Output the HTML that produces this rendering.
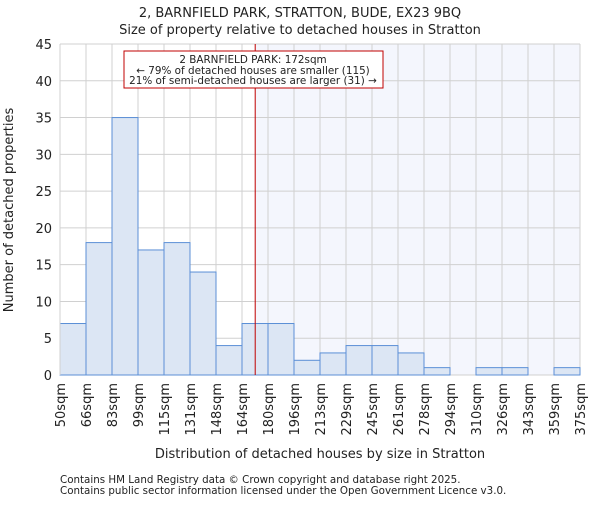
<!DOCTYPE html>
<html><head><meta charset="utf-8"><style>body{margin:0;background:#fff}svg{font-family:"DejaVu Sans","Liberation Sans",sans-serif}</style></head>
<body>
<svg id="c" width="600" height="500"></svg>
<script>
const categories=["50sqm","66sqm","83sqm","99sqm","115sqm","131sqm","148sqm","164sqm","180sqm","196sqm","213sqm","229sqm","245sqm","261sqm","278sqm","294sqm","310sqm","326sqm","343sqm","359sqm","375sqm"];
const counts=[7,18,35,17,18,14,4,7,7,2,3,4,4,3,1,0,1,1,0,1];
const yTicks=[0,5,10,15,20,25,30,35,40,45];
const markerValue=172;
const binStart=50, binWidth=16.25;
const X0=60,X1=580,Y0=375,Y1=44,NS="http://www.w3.org/2000/svg";
const svg=document.getElementById('c');
const bw=(X1-X0)/counts.length;
const xv=v=>X0+(v-binStart)/binWidth*bw;
const y=v=>Y0-(v/45)*(Y0-Y1);
function el(t,a,p){const e=document.createElementNS(NS,t);for(const k in a)e.setAttribute(k,a[k]);(p||svg).appendChild(e);return e;}
const mx=xv(markerValue);
let s=el('rect',{x:mx,y:Y1,width:X1-mx,height:Y0-Y1,fill:'#f4f6fd'});


for(const t of yTicks){const g=el('line',{x1:X0,x2:X1,y1:y(t),y2:y(t),stroke:'#d0d0d0','stroke-width':1});


const l=el('text',{x:X0-8,y:y(t)+5,'text-anchor':'end','font-size':13,fill:'#222'});l.textContent=t;

}
categories.forEach((c,i)=>{const x=X0+i*bw;const g=el('line',{x1:x,x2:x,y1:Y1,y2:Y0,stroke:'#d0d0d0','stroke-width':1});


const l=el('text',{transform:`translate(${x+5},${Y0+8}) rotate(-90)`,'text-anchor':'end','font-size':13,fill:'#222'});l.textContent=c;

});
counts.forEach((v,i)=>{if(v<=0)return;const b=el('rect',{x:X0+i*bw,y:y(v),width:bw,height:Y0-y(v),fill:'#dce6f4',stroke:'#5b8fd6','stroke-width':1});

});
let ax=el('line',{x1:X0,x2:X0,y1:Y1,y2:Y0,stroke:'#d0d0d0'});
let m=el('line',{x1:mx,x2:mx,y1:Y1,y2:Y0,stroke:'#c00000','stroke-width':1});


</script>
<svg width="600" height="500" style="position:absolute;left:0;top:0">
<g font-family="DejaVu Sans, Liberation Sans, sans-serif" fill="#222">
<text x="300" y="17" font-size="13" text-anchor="middle">2, BARNFIELD PARK, STRATTON, BUDE, EX23 9BQ</text>
<text x="300" y="34" font-size="13" text-anchor="middle">Size of property relative to detached houses in Stratton</text>
<rect x="124" y="51" width="259" height="37" fill="#fff" stroke="#c00000"/>
<text x="253" y="63" font-size="10.4" text-anchor="middle">2 BARNFIELD PARK: 172sqm</text>
<text x="253" y="74" font-size="10.4" text-anchor="middle">← 79% of detached houses are smaller (115)</text>
<text x="253" y="84" font-size="10.4" text-anchor="middle">21% of semi-detached houses are larger (31) →</text>
<text x="320" y="458" font-size="13" text-anchor="middle">Distribution of detached houses by size in Stratton</text>
<text transform="translate(13,210) rotate(-90)" font-size="13" text-anchor="middle">Number of detached properties</text>
<text x="60" y="483" font-size="10.3">Contains HM Land Registry data © Crown copyright and database right 2025.</text>
<text x="60" y="494" font-size="10.3">Contains public sector information licensed under the Open Government Licence v3.0.</text>
</g></svg>
</body></html>
